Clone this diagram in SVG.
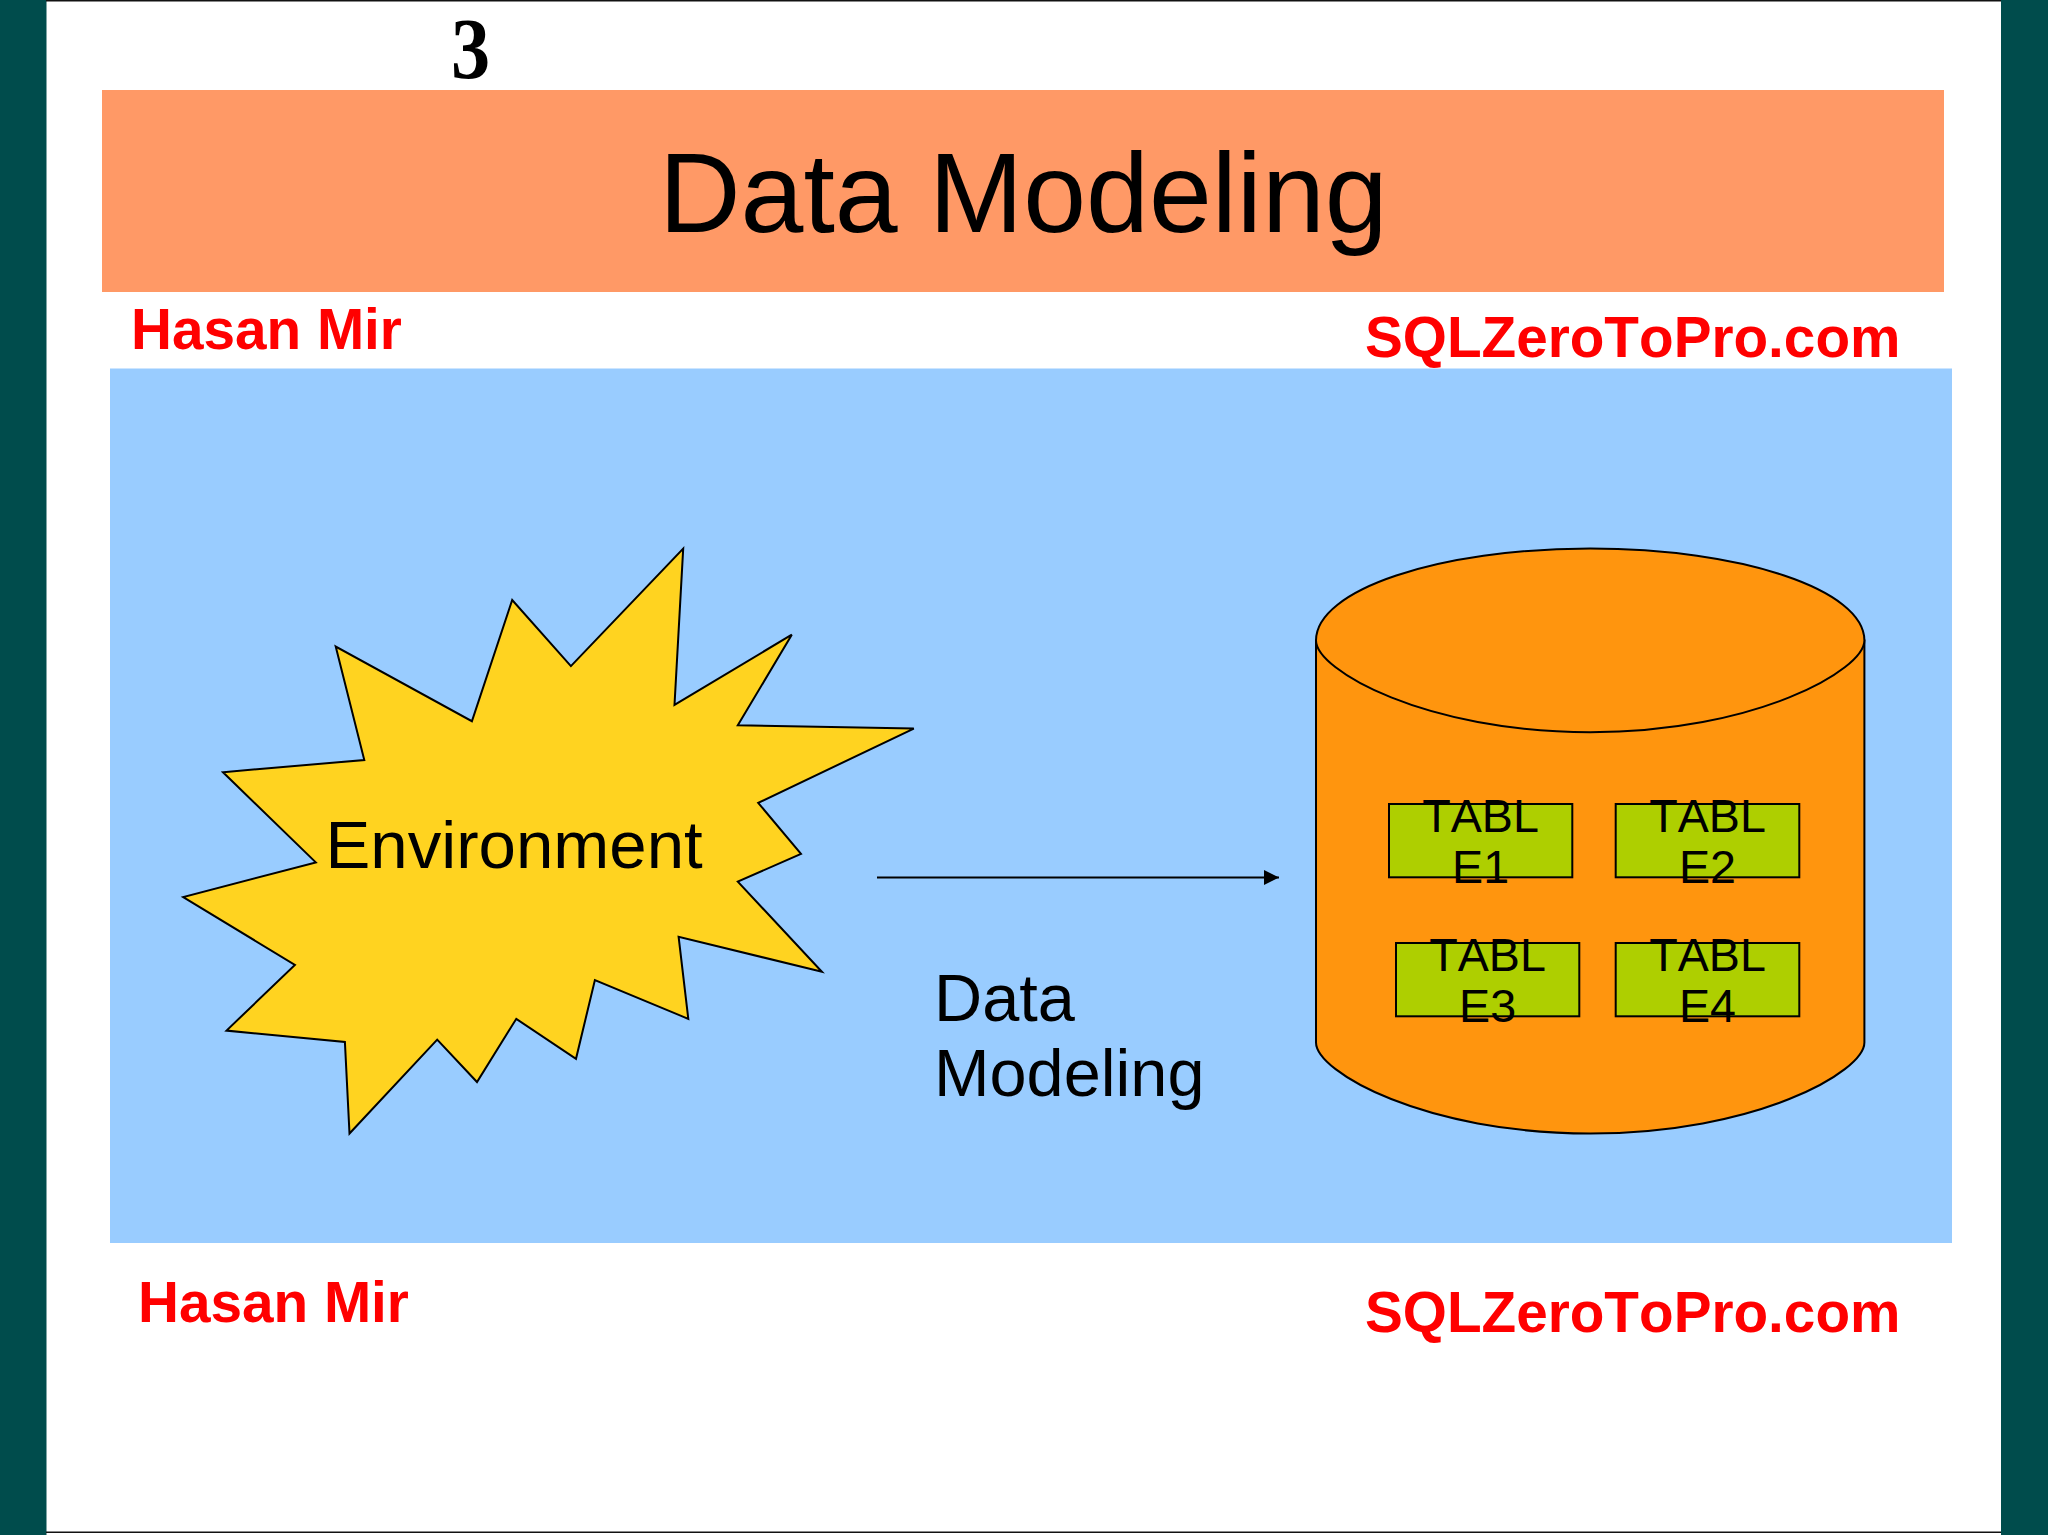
<svg xmlns="http://www.w3.org/2000/svg" width="2048" height="1535" viewBox="0 0 2048 1535">
<style>
text{font-family:"Liberation Sans",Arial,sans-serif;fill:#000;font-kerning:none}
.sig{font-size:56.7px;font-weight:700;fill:#f00}
.lbl{font-size:66.67px}
.tbl{font-size:46.67px;text-anchor:middle}
.tbox{fill:#aecf00;stroke:#000;stroke-width:2}
.ln{stroke:#000;stroke-width:2}
</style>
<defs>
<marker id="arrow" viewBox="0 0 15 15" refX="15" refY="7.5" markerWidth="15" markerHeight="15" markerUnits="userSpaceOnUse" orient="auto"><path d="M0 0L15 7.5L0 15Z" fill="#000"/></marker>
</defs>
<rect id="page" width="2048" height="1535" fill="#fff"/>
<rect x="0" y="0" width="46.5" height="1535" fill="#004c4c"/>
<rect x="2001" y="0" width="47" height="1535" fill="#004c4c"/>
<rect x="46" y="0" width="1955" height="1.5" fill="#111"/>
<rect x="46" y="1531.5" width="1955" height="1.5" fill="#111"/>
<text transform="translate(451 77.5) scale(0.9 1)" style="font-family:'Liberation Serif',serif;font-weight:700;font-size:87px">3</text>
<g id="title"><rect x="102" y="90" width="1842" height="202" fill="#f96"/>
<text x="659" y="232" font-size="113">Data Modeling</text></g>
<text class="sig" x="131" y="348.5">Hasan Mir</text>
<text class="sig" x="1365" y="357">SQLZeroToPro.com</text>
<rect id="panel" x="110" y="368.5" width="1842" height="874.5" fill="#9cf"/>
<text class="sig" x="138" y="1322">Hasan Mir</text>
<text class="sig" x="1365" y="1332">SQLZeroToPro.com</text>
<g id="environment">
<polygon points="683.2,548.6 674.5,704.9 791.8,634.7 737.8,725.3 913.8,728.6 758.2,802.9 801,853.9 737.8,881.6 821.9,971.8 678.6,936.7 688.3,1018.8 594.9,980 576,1058.8 516.3,1018.8 477,1082 437.2,1039.6 349.5,1133.5 344.9,1042 226.5,1030.6 294.9,964.9 183.2,897.1 315.8,862.4 223,772.2 364.3,760 335.7,646.5 471.9,721.2 512.2,600 570.9,666.1" fill="#ffd320" stroke="#000" stroke-width="2"/>
<text class="lbl" style="font-size:67.2px" x="325.5" y="868">Environment</text>
</g>
<g id="connectors"><line class="ln" x1="877" y1="877.5" x2="1279" y2="877.5" marker-end="url(#arrow)"/></g>
<g id="edge-label"><text class="lbl" x="934" y="1021">Data</text><text class="lbl" x="934" y="1096">Modeling</text></g>
<g id="database">
<path d="M1316 640.4V1042.4C1316 1072 1425 1133.5 1590.2 1133.5S1864.4 1072 1864.4 1042.4V640.4Z" fill="#ff950e" stroke="#000" stroke-width="2"/>
<path d="M1316 640.4C1316 589.7 1438.7 548.6 1590.2 548.6S1864.4 589.7 1864.4 640.4C1864.4 670 1755.4 732.2 1590.2 732.2S1316 670 1316 640.4Z" fill="#ff950e" stroke="#000" stroke-width="2"/>
</g>
<g id="table1"><rect class="tbox" x="1389" y="804" width="183.3" height="73.3"/><text class="tbl" x="1480.6" y="831.7">TABL</text><text class="tbl" x="1480.6" y="883">E1</text></g>
<g id="table2"><rect class="tbox" x="1615.7" y="804" width="183.6" height="73.3"/><text class="tbl" x="1707.5" y="831.7">TABL</text><text class="tbl" x="1707.5" y="883">E2</text></g>
<g id="table3"><rect class="tbox" x="1396" y="943" width="183.3" height="73.3"/><text class="tbl" x="1487.6" y="970.7">TABL</text><text class="tbl" x="1487.6" y="1022">E3</text></g>
<g id="table4"><rect class="tbox" x="1615.7" y="943" width="183.6" height="73.3"/><text class="tbl" x="1707.5" y="970.7">TABL</text><text class="tbl" x="1707.5" y="1022">E4</text></g>
</svg>
